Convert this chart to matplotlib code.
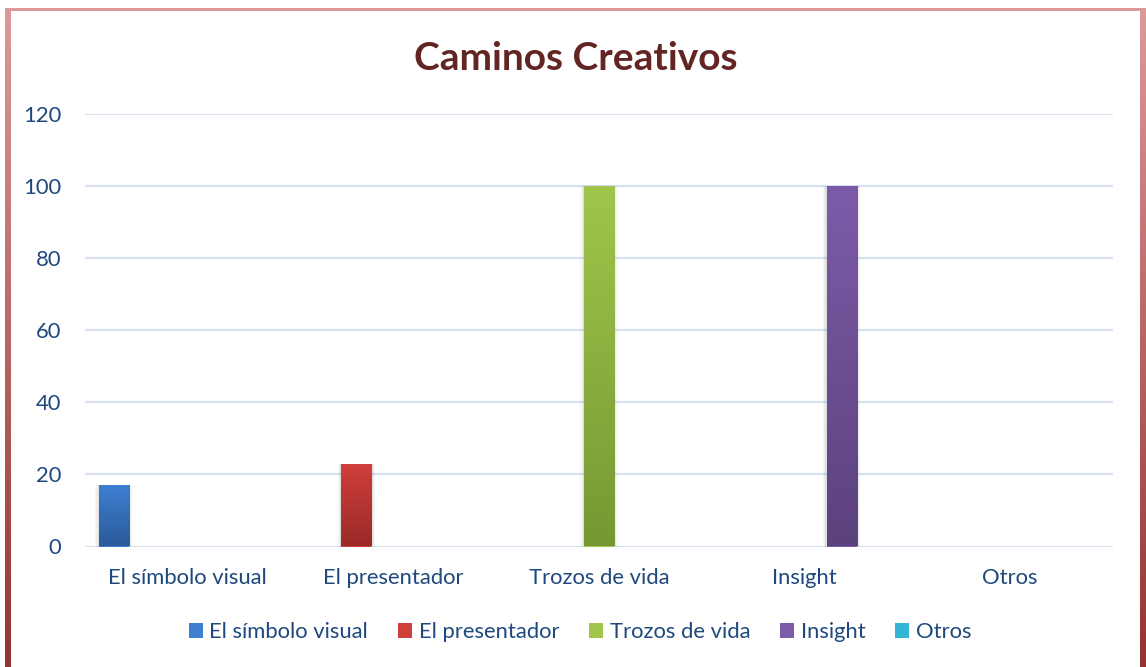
import numpy as np
import matplotlib
matplotlib.use("Agg")
import matplotlib.pyplot as plt
from matplotlib.colors import LinearSegmentedColormap, to_rgb
from matplotlib.patches import Patch

# ---- data ----
categories = ["El símbolo visual", "El presentador", "Trozos de vida", "Insight", "Otros"]
series_names = ["El símbolo visual", "El presentador", "Trozos de vida", "Insight", "Otros"]
series_values = [
    [17, 0, 0, 0, 0],
    [0, 23, 0, 0, 0],
    [0, 0, 100, 0, 0],
    [0, 0, 0, 100, 0],
    [0, 0, 0, 0, 0],
]
yticks = [0, 20, 40, 60, 80, 100, 120]
title = "Caminos Creativos"

# ---- style ----
top_colors = ["#3E7FD2", "#D03F3C", "#A2C54C", "#7C5BA9", "#33B5D5"]
bot_colors = ["#2B5B9A", "#9A2A27", "#769832", "#5C427D", "#268AA2"]
text_color = "#1F497D"
grid_color = "#D5E1F1"
FONT = ["Lato", "DejaVu Sans"]
plt.rcParams["font.family"] = FONT
FS = 15.8

W, H = 1146, 667
fig = plt.figure(figsize=(W / 100, H / 100), dpi=100)
fig.patch.set_facecolor("white")

# border (gradient image, figure-level)
bax = fig.add_axes([0, 0, 1, 1], zorder=-5)
bax.axis("off")
c_top = np.array(to_rgb("#DB9A99"))
c_bot = np.array(to_rgb("#943331"))
img = np.ones((H, W, 4))
img[..., 3] = 0
t = np.clip((np.arange(H) - 8) / (H - 8), 0, 1)[:, None]
colcol = c_top[None, :] * (1 - t) + c_bot[None, :] * t
for (x0, x1) in [(5, 11), (1140, 1146)]:
    img[8:, x0:x1, :3] = colcol[8:, None, :]
    img[8:, x0:x1, 3] = 1
img[8:11, 5:, :3] = c_top
img[8:11, 5:, 3] = 1
bax.imshow(img, extent=(0, W, H, 0), interpolation="nearest", aspect="auto")
bax.set_xlim(0, W)
bax.set_ylim(H, 0)

# main axes
left, right = 85 / W, 1113 / W
bottom, top = 1 - 546.5 / H, 1 - 113.5 / H
ax = fig.add_axes([left, bottom, right - left, top - bottom])
ax.set_xlim(-0.5, len(categories) - 0.5)
ax.set_ylim(0, 120)
ax.set_yticks(yticks)
ax.set_yticklabels([str(v) for v in yticks])
ax.set_xticks(range(len(categories)))
ax.set_xticklabels(categories)
for s in ax.spines.values():
    s.set_visible(False)
ax.tick_params(axis="both", length=0, labelsize=FS, colors=text_color)
ax.tick_params(axis="y", pad=17)
ax.tick_params(axis="x", pad=15.5)
ax.grid(axis="y", color=grid_color, lw=1.5)
ax.set_axisbelow(True)

slot = 0.18
bw = 0.146
x = np.arange(len(categories))
handles = []
for i, vals in enumerate(series_values):
    offs = (i - 2) * slot
    bars = ax.bar(x + offs, vals, width=bw, color=top_colors[i], zorder=3, lw=0)
    cmap = LinearSegmentedColormap.from_list("g%d" % i, [bot_colors[i], top_colors[i]])
    grad = np.linspace(0, 1, 256).reshape(-1, 1)
    for b in bars:
        h = b.get_height()
        if h <= 0:
            continue
        x0 = b.get_x()
        # soft shadow
        for k, a in enumerate([0.05, 0.04, 0.03]):
            d = 0.006 * (k + 1)
            ax.add_patch(plt.Rectangle((x0 - d, 0 - 0.25 * (k + 1)), bw + 2 * d, h + 0.25 * (k + 1),
                                       color="black", alpha=a, lw=0, zorder=2))
        im = ax.imshow(grad, extent=(x0, x0 + bw, 0, h), origin="lower", cmap=cmap,
                       aspect="auto", zorder=4, interpolation="bicubic")
        im.set_clip_path(b)
    handles.append(Patch(facecolor=top_colors[i], edgecolor="none", label=series_names[i]))
ax.set_xlim(-0.5, len(categories) - 0.5)
ax.set_ylim(0, 120)

# legend
leg = fig.legend(handles=handles, loc="center", bbox_to_anchor=(580 / W, 1 - 632 / H),
                 ncol=5, frameon=False, fontsize=FS, handlelength=0.65, handleheight=0.65,
                 handletextpad=0.3, columnspacing=1.35)
for t_ in leg.get_texts():
    t_.set_color(text_color)

fig.text(576 / W, 1 - 59 / H, title, ha="center", va="center", fontsize=28,
         fontweight="bold", color="#632523")

fig.savefig("out.png", dpi=100, facecolor="white")
